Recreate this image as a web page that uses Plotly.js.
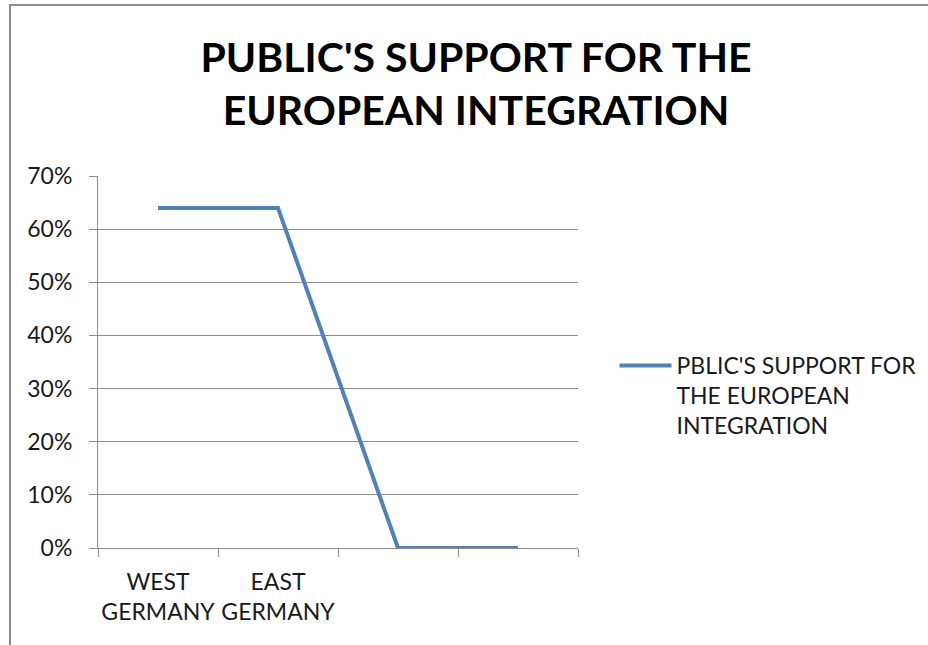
<!DOCTYPE html>
<html>
<head>
<meta charset="utf-8">
<script src="https://cdn.plot.ly/plotly-3.0.1.min.js"></script>
<style>
  html, body { margin: 0; padding: 0; background: #fff; }
  #wrap { position: relative; width: 928px; height: 645px; }
  #chart { width: 928px; height: 645px; }
  #frame { position: absolute; left: 9px; top: 4px; width: 919px; height: 641px;
           border-left: 2px solid #8c8c8c; border-top: 2px solid #8c8c8c; pointer-events: none; box-sizing: border-box; }
</style>
</head>
<body>
<div id="wrap">
  <div id="chart"></div>
  <div id="frame"></div>
</div>
<script>
const categories = ["WEST<br>GERMANY", "EAST<br>GERMANY", " ", "  "];
const supportValues = [0.64, 0.64, 0, 0];
const seriesName = "PBLIC'S SUPPORT FOR<br>THE EUROPEAN<br>INTEGRATION";
const chartTitle = "PUBLIC'S SUPPORT FOR THE<br>EUROPEAN INTEGRATION";
const yTickValues = [0, 0.1, 0.2, 0.3, 0.4, 0.5, 0.6, 0.7];

const fontFamily = "Lato, 'Noto Sans', sans-serif";
const gray = "#8c8c8c";

const trace = {
  type: "scatter",
  mode: "lines",
  x: categories,
  y: supportValues,
  name: seriesName,
  line: { color: "#4f81bd", width: 4 },
  showlegend: true
};

const layout = {
  width: 928,
  height: 645,
  paper_bgcolor: "#fff",
  plot_bgcolor: "#fff",
  margin: { l: 98, r: 350, t: 176, b: 97, autoexpand: false },
  font: { family: fontFamily, size: 23, color: "#1a1a1a" },
  title: {
    text: chartTitle,
    font: { family: fontFamily, size: 41, color: "#000", weight: "bold" },
    xref: "container", yref: "container",
    x: 0.513, xanchor: "center",
    y: 1 - 72 / 645, yanchor: "middle"
  },
  xaxis: {
    type: "category",
    categoryorder: "array",
    categoryarray: categories,
    range: [-0.5, 3.5],
    tickson: "boundaries",
    tickangle: 0,
    ticks: "outside",
    ticklen: 8,
    tickcolor: gray,
    showline: true,
    linecolor: gray,
    linewidth: 1,
    showgrid: false,
    zeroline: false,
    ticklabelstandoff: 13,
    tickfont: { family: fontFamily, size: 23, color: "#1a1a1a" },
    fixedrange: true
  },
  yaxis: {
    range: [0, 0.7],
    tickvals: yTickValues,
    tickformat: ".0%",
    ticks: "outside",
    ticklen: 8,
    tickcolor: gray,
    showline: true,
    linecolor: gray,
    linewidth: 1,
    showgrid: true,
    gridcolor: gray,
    gridwidth: 1,
    zeroline: false,
    ticklabelstandoff: 12,
    tickfont: { family: fontFamily, size: 23, color: "#1a1a1a" },
    fixedrange: true
  },
  legend: {
    x: 1.076, xanchor: "left",
    y: 0.41, yanchor: "middle",
    valign: "top",
    itemwidth: 52,
    bgcolor: "rgba(0,0,0,0)",
    font: { family: fontFamily, size: 23, color: "#1a1a1a" }
  },
  showlegend: true
};

Plotly.newPlot("chart", [trace], layout, { displayModeBar: false, staticPlot: true });
</script>
</body>
</html>
